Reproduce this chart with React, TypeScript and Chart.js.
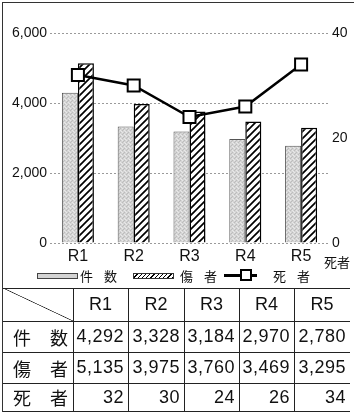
import React, { useEffect, useRef } from 'react';
import { Chart, registerables } from 'chart.js';

Chart.register(...registerables);

const categories = ['R1', 'R2', 'R3', 'R4', 'R5'];
const casesValues = [4292, 3328, 3184, 2970, 2780];
const injuredValues = [5135, 3975, 3760, 3469, 3295];
const deathsValues = [32, 30, 24, 26, 34];
const leftTicks = [0, 2000, 4000, 6000];
const rightTicks = [0, 20, 40];
const seriesLabels = ['件 数', '傷 者', '死 者'];
const rowLabels = [['件', '数'], ['傷', '者'], ['死', '者']];
const rightAxisTitle = '死者';

const LATIN = "'Liberation Sans', Arial, sans-serif";
const CJK = "'Noto Sans CJK JP', 'Noto Sans', sans-serif";

const colEdges = [3, 73, 128, 184, 239, 294, 350];
const rowEdges = [288, 321, 352, 383, 411];

function makeStipple(): CanvasPattern | string {
  const c = document.createElement('canvas');
  c.width = 4; c.height = 4;
  const g = c.getContext('2d');
  if (!g) return '#d2d2d2';
  g.fillStyle = '#d4d4d4'; g.fillRect(0, 0, 4, 4);
  g.fillStyle = '#bcbcbc'; g.fillRect(0, 0, 1, 1); g.fillRect(2, 2, 1, 1); g.fillRect(3, 1, 1, 1);
  g.fillStyle = '#e8e8e8'; g.fillRect(2, 0, 1, 1); g.fillRect(0, 2, 1, 1); g.fillRect(1, 3, 1, 1);
  return g.createPattern(c, 'repeat') || '#d2d2d2';
}

function makeHatch(): CanvasPattern | string {
  const s = 7;
  const c = document.createElement('canvas');
  c.width = s; c.height = s;
  const g = c.getContext('2d');
  if (!g) return '#fff';
  g.fillStyle = '#fff'; g.fillRect(0, 0, s, s);
  g.strokeStyle = '#000'; g.lineWidth = 1.7;
  g.beginPath();
  g.moveTo(-1, s + 1); g.lineTo(s + 1, -1);
  g.moveTo(-1, 1); g.lineTo(1, -1);
  g.moveTo(s - 1, s + 1); g.lineTo(s + 1, s - 1);
  g.stroke();
  return g.createPattern(c, 'repeat') || '#fff';
}

function ChartCanvas() {
  const ref = useRef<HTMLCanvasElement | null>(null);
  useEffect(() => {
    if (!ref.current) return;
    const stipple = makeStipple();
    const hatch = makeHatch();
    const chart = new Chart(ref.current, {
      data: {
        labels: categories,
        datasets: [
          {
            type: 'line', label: seriesLabels[2], data: deathsValues, yAxisID: 'y1', order: 0,
            borderColor: '#000', borderWidth: 2.5, pointStyle: 'rect', pointRadius: 8.5,
            pointBackgroundColor: '#fff', pointBorderColor: '#000', pointBorderWidth: 2, tension: 0,
          } as any,
          {
            type: 'bar', label: seriesLabels[0], data: casesValues, yAxisID: 'y', order: 1,
            backgroundColor: stipple, borderColor: '#555', borderWidth: 1,
            barPercentage: 1, categoryPercentage: 0.574,
          } as any,
          {
            type: 'bar', label: seriesLabels[1], data: injuredValues, yAxisID: 'y', order: 2,
            backgroundColor: hatch, borderColor: '#000', borderWidth: 1.5,
            barPercentage: 1, categoryPercentage: 0.574,
          } as any,
        ],
      },
      options: {
        animation: false,
        responsive: false,
        layout: { padding: { top: 33, left: 0, right: 0, bottom: 0 } },
        plugins: { legend: { display: false }, tooltip: { enabled: false } },
        scales: {
          x: {
            grid: { display: false, drawTicks: false },
            border: { display: false },
            ticks: { font: { family: LATIN, size: 16 }, color: '#111', padding: 4 },
            afterFit: (s: any) => { s.height = 45; },
          },
          y: {
            position: 'left', min: 0, max: 6000,
            afterBuildTicks: (s: any) => { s.ticks = leftTicks.map((v) => ({ value: v })); },
            ticks: {
              callback: (v: any) => Number(v).toLocaleString('en-US'),
              padding: 3, color: '#111', font: { family: LATIN, size: 14 },
            },
            grid: { color: '#9a9a9a', lineWidth: 1, drawTicks: false },
            border: { display: false, dash: [2, 2] },
            afterFit: (s: any) => { s.width = 50; },
          },
          y1: {
            position: 'right', min: 0, max: 40,
            afterBuildTicks: (s: any) => { s.ticks = rightTicks.map((v) => ({ value: v })); },
            ticks: { padding: 3, color: '#111', font: { family: LATIN, size: 14 } },
            grid: { display: false, drawTicks: false },
            border: { display: false },
            afterFit: (s: any) => { s.width = 25; },
          },
        },
      } as any,
    });
    return () => chart.destroy();
  }, []);
  return <canvas ref={ref} width={354} height={288} style={{ position: 'absolute', left: 0, top: 0 }} />;
}

const abs = (l: number, t: number, w: number, h: number, extra: React.CSSProperties = {}): React.CSSProperties => ({
  position: 'absolute', left: l, top: t, width: w, height: h, boxSizing: 'border-box', ...extra,
});

export default function App() {
  const lineColor = '#222';
  const rows = [casesValues, injuredValues, deathsValues];
  return (
    <div style={{ position: 'fixed', left: 0, top: 0, width: 354, height: 417, background: '#fff', overflow: 'hidden', color: '#111' }}>
      <ChartCanvas />
      {/* outer border */}
      <div style={abs(2, 2, 352, 1, { background: '#333' })} />
      <div style={abs(2, 2, 1, 410, { background: '#333' })} />

      {/* right axis title */}
      <div style={abs(324, 253, 30, 18, { font: `13px ${CJK}`, lineHeight: '18px', whiteSpace: 'nowrap' })}>{rightAxisTitle}</div>

      {/* legend */}
      <div style={abs(37, 273, 41, 6, { background: '#d4d4d4', border: '1px solid #444' })} />
      <div style={abs(80, 267, 45, 18, { font: `13px ${CJK}`, lineHeight: '18px', whiteSpace: 'nowrap', wordSpacing: 8 })}>{seriesLabels[0]}</div>
      <div style={abs(133, 273, 41, 6, { background: 'repeating-linear-gradient(135deg, #fff 0px, #fff 2px, #000 2px, #000 3px)', border: '1px solid #333' })} />
      <div style={abs(180, 267, 45, 18, { font: `13px ${CJK}`, lineHeight: '18px', whiteSpace: 'nowrap', wordSpacing: 8 })}>{seriesLabels[1]}</div>
      <div style={abs(224, 274, 33, 2.5, { background: '#000' })} />
      <div style={abs(240, 269, 12, 12, { background: '#fff', border: '2px solid #000' })} />
      <div style={abs(273, 267, 45, 18, { font: `13px ${CJK}`, lineHeight: '18px', whiteSpace: 'nowrap', wordSpacing: 8 })}>{seriesLabels[2]}</div>

      {/* table lines */}
      {rowEdges.map((y, i) => (
        <div key={'h' + i} style={abs(colEdges[0], y, colEdges[colEdges.length - 1] - colEdges[0], 1, { background: lineColor })} />
      ))}
      {colEdges.slice(1, colEdges.length - 1).map((x, i) => (
        <div key={'v' + i} style={abs(x, rowEdges[0], 1, rowEdges[rowEdges.length - 1] - rowEdges[0], { background: lineColor })} />
      ))}
      {/* diagonal in corner cell */}
      <div style={abs(colEdges[0], rowEdges[0], colEdges[1] - colEdges[0], rowEdges[1] - rowEdges[0], {
        background: 'linear-gradient(to top right, transparent calc(50% - 0.7px), #222 50%, transparent calc(50% + 0.7px))',
      })} />

      {/* header */}
      {categories.map((c, i) => (
        <div key={'c' + i} style={abs(colEdges[i + 1], rowEdges[0], colEdges[i + 2] - colEdges[i + 1], rowEdges[1] - rowEdges[0], {
          display: 'flex', alignItems: 'center', justifyContent: 'center', font: `18px ${LATIN}`,
        })}>{c}</div>
      ))}

      {/* body rows */}
      {rows.map((vals, r) => (
        <React.Fragment key={'r' + r}>
          <div style={abs(colEdges[0], rowEdges[r + 1], colEdges[1] - colEdges[0], rowEdges[r + 2] - rowEdges[r + 1], {
            display: 'flex', alignItems: 'center', justifyContent: 'space-between', padding: '0 5px 0 10px', font: `18px ${CJK}`,
          })}>
            <span>{rowLabels[r][0]}</span><span>{rowLabels[r][1]}</span>
          </div>
          {vals.map((v, i) => (
            <div key={'v' + i} style={abs(colEdges[i + 1], rowEdges[r + 1], colEdges[i + 2] - colEdges[i + 1], rowEdges[r + 2] - rowEdges[r + 1], {
              display: 'flex', alignItems: 'center', justifyContent: 'flex-end', paddingRight: 4, font: `18px ${LATIN}`, letterSpacing: 0.5,
            })}>{v.toLocaleString('en-US')}</div>
          ))}
        </React.Fragment>
      ))}
    </div>
  );
}
